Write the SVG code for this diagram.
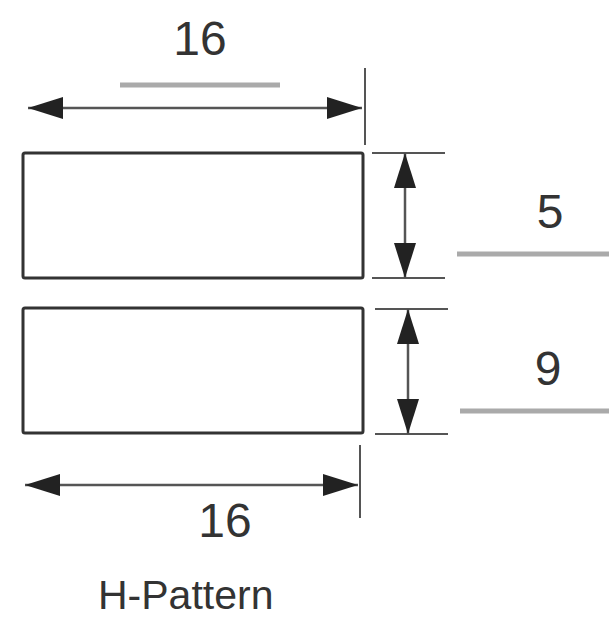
<svg xmlns="http://www.w3.org/2000/svg" width="609" height="618" viewBox="0 0 609 618">
<style>
.box{fill:#fff;stroke:#333;stroke-width:3}
.dim{stroke:#555;stroke-width:2.5;fill:none}
.ext{stroke:#555;stroke-width:2;fill:none}
.bar{stroke:#aaa;stroke-width:5;fill:none}
.num{font-family:"Liberation Sans",Arial,sans-serif;font-size:48px;fill:#333;text-anchor:middle}
.cap{font-family:"Liberation Sans",Arial,sans-serif;font-size:41px;fill:#333}
</style>
<defs>
<marker id="ah" markerUnits="userSpaceOnUse" markerWidth="36" markerHeight="24" refX="35" refY="12" orient="auto-start-reverse" viewBox="0 0 36 24">
<path d="M0,1 L35,12 L0,23 Z" fill="#222"/>
</marker>
</defs>
<rect width="609" height="618" fill="#fff"/>
<g id="box-top"><rect class="box" x="23" y="153" width="340" height="125" rx="2"/></g>
<g id="box-bottom"><rect class="box" x="23" y="308" width="340" height="125" rx="2"/></g>
<g id="connectors">
<line class="ext" x1="365" y1="68" x2="365" y2="145"/>
<line class="dim" x1="28" y1="108" x2="362" y2="108" marker-start="url(#ah)" marker-end="url(#ah)"/>
<line class="bar" x1="120" y1="85" x2="280" y2="85"/>
<line class="ext" x1="372" y1="153" x2="445" y2="153"/>
<line class="ext" x1="372" y1="278" x2="445" y2="278"/>
<line class="dim" x1="405" y1="153" x2="405" y2="278" marker-start="url(#ah)" marker-end="url(#ah)"/>
<line class="bar" x1="457" y1="254" x2="609" y2="254"/>
<line class="ext" x1="375" y1="309" x2="448" y2="309"/>
<line class="ext" x1="375" y1="434" x2="448" y2="434"/>
<line class="dim" x1="408" y1="309" x2="408" y2="434" marker-start="url(#ah)" marker-end="url(#ah)"/>
<line class="bar" x1="460" y1="411" x2="609" y2="411"/>
<line class="ext" x1="360" y1="445" x2="360" y2="518"/>
<line class="dim" x1="25" y1="485" x2="358" y2="485" marker-start="url(#ah)" marker-end="url(#ah)"/>
</g>
<g id="labels">
<text class="num" x="200" y="55">16</text>
<text class="num" x="550" y="228">5</text>
<text class="num" x="548" y="385">9</text>
<text class="num" x="225" y="537">16</text>
<text class="cap" x="98" y="609">H-Pattern</text>
</g>
</svg>
